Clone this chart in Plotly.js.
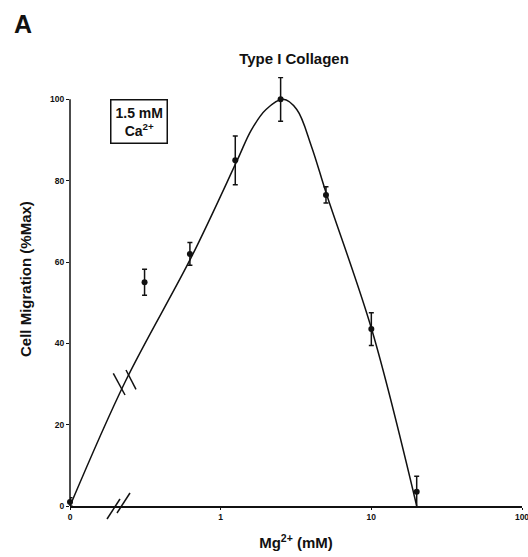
<!DOCTYPE html>
<html>
<head>
<meta charset="utf-8">
<script src="https://cdn.plot.ly/plotly-3.0.1.min.js"></script>
<style>html,body{margin:0;padding:0;background:#fff;}#chart{width:528px;height:557px;}</style>
</head>
<body>
<div id="chart"></div>
<script>
// Measured data (Mg2+ concentration in mM, migration in % of max)
const mgConc = [0, 0.3125, 0.625, 1.25, 2.5, 5, 10, 20];
const migration = [1, 55, 62, 85, 100, 76.5, 43.5, 3.5];
const migrationErr = [1, 3.2, 2.8, 6, 5.4, 2, 4, 3.8];

// Fitted curve
const curveConc = [0, 0.232, 0.645, 1.28, 1.6, 2.0, 2.6, 3.2, 4.0, 5.07, 10.1, 20];
const curveMig = [0, 30.5, 61.5, 84.8, 92.5, 97.5, 100, 97.5, 88.5, 76.4, 43.2, 0];

const xTickVals = [0, 1, 10, 100];
const xTickText = ['0', '1', '10', '100'];
const yTickVals = [0, 20, 40, 60, 80, 100];

// zero sits at the axis-break position (one decade below 1)
const BREAK_POS = 0.1;
const toAxis = c => (c === 0 ? BREAK_POS : c);

const font = 'Liberation Sans, Arial, sans-serif';
const ink = '#111111';

const traces = [
  {
    x: curveConc.map(toAxis), y: curveMig, mode: 'lines', type: 'scatter',
    line: {color: ink, width: 1.5, shape: 'spline', smoothing: 1},
    hoverinfo: 'skip', showlegend: false, cliponaxis: false
  },
  {
    x: mgConc.map(toAxis), y: migration, mode: 'markers', type: 'scatter',
    marker: {color: ink, size: 6},
    error_y: {type: 'data', array: migrationErr, visible: true, color: ink, thickness: 1.5, width: 2.5},
    showlegend: false, cliponaxis: false
  }
];

const layout = {
  width: 528, height: 557,
  margin: {l: 70, r: 6, t: 77, b: 51},
  paper_bgcolor: '#ffffff', plot_bgcolor: '#ffffff',
  font: {family: font, color: ink},
  title: {text: 'Type I Collagen', x: 294/528, y: 1 - 59/557, xref: 'container', yref: 'container',
          xanchor: 'center', yanchor: 'middle', font: {size: 15, weight: 'bold', family: font, color: ink}},
  xaxis: {
    type: 'log', range: [-1, 2], tickvals: xTickVals.map(toAxis), ticktext: xTickText,
    showgrid: false, zeroline: false, showline: true, linecolor: ink, linewidth: 1.5,
    ticks: 'outside', ticklen: 2, tickcolor: ink, ticklabeloverflow: 'allow',
    tickfont: {size: 8.5, weight: 'bold', color: ink, family: font},
    title: {text: 'Mg<sup>2+</sup> (mM)', font: {size: 15, weight: 'bold', color: ink, family: font}, standoff: 17},
    automargin: false, fixedrange: true
  },
  yaxis: {
    range: [0, 105.5], tickvals: yTickVals,
    showgrid: false, zeroline: false, showline: false,
    ticks: 'outside', ticklen: 3, tickcolor: ink, tickfont: {size: 8.5, weight: 'bold', color: ink, family: font},
    automargin: false, fixedrange: true
  },
  shapes: [
    {type: 'line', xref: 'paper', yref: 'y', x0: 0, x1: 0, y0: 0, y1: 100, line: {color: ink, width: 1.5}},
    // axis-break marks on the x axis
    {type: 'line', xref: 'paper', yref: 'paper', x0: 0.0819, x1: 0.1106, y0: -0.0303, y1: 0.0163, line: {color: ink, width: 1.5}},
    {type: 'line', xref: 'paper', yref: 'paper', x0: 0.104, x1: 0.1327, y0: -0.0163, y1: 0.0303, line: {color: ink, width: 1.5}},
    // axis-break marks on the curve
    {type: 'line', xref: 'paper', yref: 'paper', x0: 0.0958, x1: 0.1217, y0: 0.3093, y1: 0.2587, line: {color: ink, width: 1.5}},
    {type: 'line', xref: 'paper', yref: 'paper', x0: 0.1239, x1: 0.146, y0: 0.317, y1: 0.272, line: {color: ink, width: 1.5}}
  ],
  annotations: [
    {text: 'Cell Migration (%Max)', xref: 'paper', yref: 'paper', x: (25-70)/452, y: (506-279)/429,
     xanchor: 'center', yanchor: 'middle', textangle: -90, showarrow: false,
     font: {size: 15, weight: 'bold', color: ink, family: font}},
    {text: 'A', xref: 'paper', yref: 'paper', x: (12-70)/452, y: (506-24)/429, xanchor: 'left', yanchor: 'middle',
     showarrow: false, font: {size: 25, weight: 'bold', color: ink, family: font}},
    {text: '1.5 mM<br>Ca<sup>2+</sup>', xref: 'paper', yref: 'paper', x: (139-70)/452, y: (506-121.5)/429,
     xanchor: 'center', yanchor: 'middle', showarrow: false, align: 'center',
     bordercolor: ink, borderwidth: 1.5, borderpad: 4, bgcolor: '#ffffff',
     font: {size: 14, weight: 'bold', color: ink, family: font}}
  ]
};

Plotly.newPlot('chart', traces, layout, {staticPlot: true, displayModeBar: false});
</script>
</body>
</html>
